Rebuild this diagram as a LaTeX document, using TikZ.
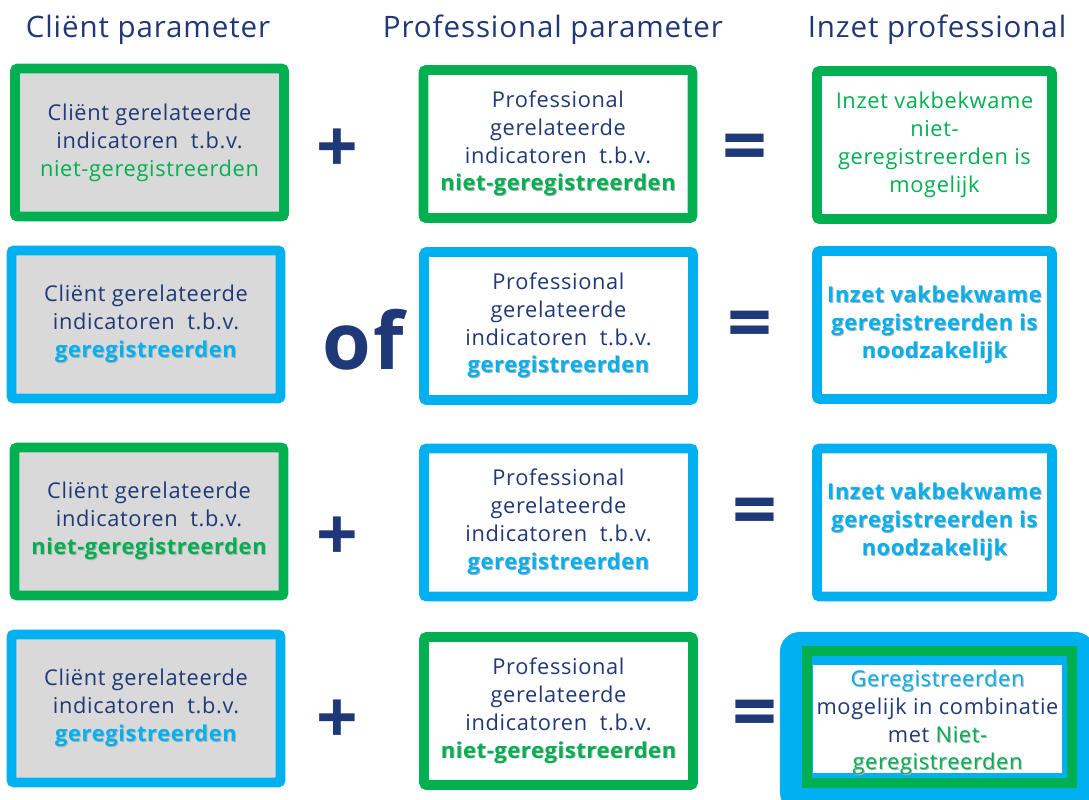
\documentclass[tikz,border=0pt]{standalone}
\usepackage{fontspec}
\setmainfont{Open Sans}[LetterSpace=3]
\usepackage{tikz}
\definecolor{navy}{RGB}{31,56,120}
\definecolor{grn}{RGB}{0,176,80}
\definecolor{lblue}{RGB}{0,176,240}
\definecolor{lgray}{RGB}{217,217,217}
\newcommand{\shtxt}[2]{\leavevmode\rlap{\kern0.7pt\raisebox{-0.7pt}{\textcolor{black!30}{#2}}}\textcolor{#1}{#2}}

\begin{document}
\begin{tikzpicture}[x=0.025cm,y=-0.025cm,
  txt/.style={font=\fontsize{15.5}{19.8}\selectfont,text=navy,align=center},
  box/.style={txt,draw,line width=7pt,rounded corners=2pt,minimum height=3.7cm,inner sep=0pt},
  wide box/.style={box,minimum width=6.725cm},
  small box/.style={box,minimum width=5.875cm},
  client node/.style={wide box,fill=lgray},
  head node/.style={font=\fontsize{21}{24}\selectfont,text=navy},
  op node/.style={font=\fontsize{52}{52}\selectfont\bfseries,text=navy},
  eq node/.style={font=\fontsize{56}{56}\selectfont\bfseries,text=navy}]
  \useasboundingbox (0,0) rectangle (1089,800);

  \node[head node] (h1) at (148,30) {Cliënt parameter};
  \node[head node] (h2) at (553,30) {Professional parameter};
  \node[head node] (h3) at (937,30) {Inzet professional};

  % rij 1
  \node[client node,draw=grn] (c1) at (149.5,142.5) {Cliënt gerelateerde\\indicatoren\ \ t.b.v.\\\textcolor{grn}{niet-geregistreerden}};
  \node[op node] (o1) at (337,151) {+};
  \node[wide box,draw=grn] (p1) at (558,144) {Professional\\gerelateerde\\indicatoren\ \ t.b.v.\\\shtxt{grn}{\bfseries niet-geregistreerden}};
  \node[eq node] (e1) at (745,154) {=};
  \node[small box,draw=grn,text=grn] (i1) at (934.5,145) {Inzet vakbekwame\\niet-\\geregistreerden is\\mogelijk};

  % rij 2
  \node[client node,draw=lblue] (c2) at (146,324.5) {Cliënt gerelateerde\\indicatoren\ \ t.b.v.\\\shtxt{lblue}{\bfseries geregistreerden}};
  \node[font=\fontsize{56}{56}\selectfont\bfseries,text=navy] (o2) at (363,340) {of};
  \node[wide box,draw=lblue] (p2) at (558.5,326) {Professional\\gerelateerde\\indicatoren\ \ t.b.v.\\\shtxt{lblue}{\bfseries geregistreerden}};
  \node[eq node] (e2) at (750,331) {=};
  \node[small box,draw=lblue] (i2) at (934.5,325) {\shtxt{lblue}{\bfseries Inzet vakbekwame}\\\shtxt{lblue}{\bfseries geregistreerden is}\\\shtxt{lblue}{\bfseries noodzakelijk}};

  % rij 3
  \node[client node,draw=grn] (c3) at (149,521.5) {Cliënt gerelateerde\\indicatoren\ \ t.b.v.\\\shtxt{grn}{\bfseries niet-geregistreerden}};
  \node[op node] (o3) at (337,539) {+};
  \node[wide box,draw=lblue] (p3) at (558.5,522.5) {Professional\\gerelateerde\\indicatoren\ \ t.b.v.\\\shtxt{lblue}{\bfseries geregistreerden}};
  \node[eq node] (e3) at (755,518) {=};
  \node[small box,draw=lblue] (i3) at (934.5,522.5) {\shtxt{lblue}{\bfseries Inzet vakbekwame}\\\shtxt{lblue}{\bfseries geregistreerden is}\\\shtxt{lblue}{\bfseries noodzakelijk}};

  % rij 4
  \node[client node,draw=lblue] (c4) at (146,708.5) {Cliënt gerelateerde\\indicatoren\ \ t.b.v.\\\shtxt{lblue}{\bfseries geregistreerden}};
  \node[op node] (o4) at (337,722) {+};
  \node[wide box,draw=grn] (p4) at (558.5,711) {Professional\\gerelateerde\\indicatoren\ \ t.b.v.\\\shtxt{grn}{\bfseries niet-geregistreerden}};
  \node[eq node] (e4) at (755,720) {=};
  \node[fill=lblue,rounded corners=14pt,minimum width=7.875cm,minimum height=4.5cm] (i4bg) at (937.5,722) {};
  \node[draw=grn,fill=lblue,line width=7pt,minimum width=6.625cm,minimum height=3.3cm] (i4) at (939.5,717) {};
  \node[fill=white,minimum width=6.225cm,minimum height=2.7cm,inner sep=0pt] (i4w) at (937.5,719) {};
  \node[txt,inner sep=0pt] (i4txt) at (937.5,723) {\shtxt{lblue}{Geregistreerden}\\mogelijk in combinatie\\met \shtxt{grn}{Niet-}\\\shtxt{grn}{geregistreerden}};
\end{tikzpicture}
\end{document}
